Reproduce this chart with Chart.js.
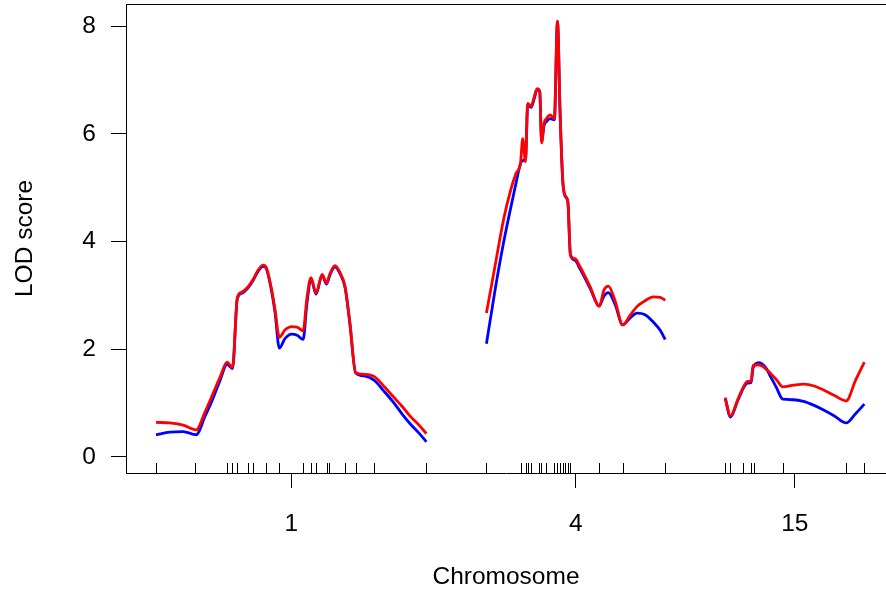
<!DOCTYPE html>
<html>
<head>
<meta charset="utf-8">
<script src="https://cdn.jsdelivr.net/npm/chart.js@4"></script>
<style>
html,body{margin:0;padding:0;background:#ffffff;overflow:hidden}
#c{display:block}
</style>
</head>
<body>
<canvas id="c" width="886" height="594"></canvas>
<script>
// ---- data ----
const chromosomes = ["1", "4", "15"];
const chromLengths = [112.7, 74.5, 58.0];   // cM
const chrGap = 25;                          // cM between chromosomes
const yTicks = [0, 2, 4, 6, 8];

// marker positions (cM within chromosome)
const markers1 = [0, 16.4, 29.6, 31.7, 33.9, 38.2, 40.5, 45.9, 51.4, 61.3, 64.5, 66.5, 71.1, 72.1, 78.6, 83.2, 90.9, 112.7];
const markers4 = [0, 14.2, 16.3, 17.3, 18.6, 21.7, 22.9, 25.0, 28.3, 29.5, 30.6, 31.7, 32.8, 33.9, 35.0, 47.0, 56.7, 74.5];
const markers15 = [0, 2.2, 7.6, 10.8, 11.9, 24.0, 50.4, 58.0];

// LOD curve positions (cM within chromosome)
const pos1 = [0, 5.8, 11.3, 16.7, 20.4, 23.8, 26.7, 29.6, 31.9, 33.9, 35.8, 38.2, 40.5, 42.6, 44.6, 45.8, 48.2, 49.6, 51.4, 53.8, 56.5, 58.8, 61.3, 62.9, 64.6, 66.7, 69.2, 71.1, 72.5, 74.6, 76.7, 78.8, 80.8, 83.2, 87.1, 91.0, 94.6, 98.8, 102.5, 105.8, 109.6, 112.7];
const red1 = [0.64, 0.63, 0.59, 0.50, 0.83, 1.18, 1.48, 1.76, 1.66, 2.96, 3.06, 3.15, 3.30, 3.47, 3.56, 3.53, 3.10, 2.73, 2.22, 2.36, 2.42, 2.41, 2.34, 2.95, 3.33, 3.04, 3.39, 3.23, 3.40, 3.55, 3.42, 3.16, 2.49, 1.56, 1.53, 1.49, 1.33, 1.12, 0.94, 0.76, 0.59, 0.43];
const blue1 = [0.41, 0.46, 0.47, 0.41, 0.75, 1.09, 1.42, 1.72, 1.64, 2.94, 3.04, 3.13, 3.28, 3.45, 3.54, 3.51, 3.07, 2.68, 2.02, 2.20, 2.28, 2.26, 2.18, 2.85, 3.31, 3.02, 3.37, 3.21, 3.38, 3.53, 3.40, 3.14, 2.47, 1.56, 1.50, 1.42, 1.24, 1.02, 0.80, 0.62, 0.44, 0.28];

const pos4 = [0, 3.6, 7.1, 9.9, 12.4, 14.2, 15.1, 16.3, 17.2, 18.6, 19.9, 21.1, 22.2, 23.0, 24.0, 25.3, 26.5, 28.3, 29.6, 30.7, 31.8, 32.8, 33.9, 35.0, 36.9, 39.0, 43.2, 47.0, 49.0, 50.8, 53.6, 56.8, 59.9, 62.7, 66.1, 69.6, 72.4, 74.5];
const red4 = [2.67, 3.55, 4.40, 4.92, 5.27, 5.45, 5.91, 5.48, 6.56, 6.51, 6.68, 6.84, 6.80, 5.83, 6.19, 6.30, 6.35, 6.28, 8.09, 6.38, 5.14, 4.85, 4.75, 3.75, 3.68, 3.53, 3.16, 2.80, 3.10, 3.17, 2.90, 2.45, 2.63, 2.79, 2.90, 2.97, 2.96, 2.91];
const blue4 = [2.10, 3.10, 3.97, 4.58, 5.10, 5.45, 5.50, 5.55, 6.56, 6.49, 6.65, 6.82, 6.78, 5.85, 6.15, 6.24, 6.28, 6.26, 8.08, 6.36, 5.12, 4.84, 4.74, 3.75, 3.65, 3.49, 3.13, 2.80, 2.99, 3.05, 2.83, 2.45, 2.58, 2.67, 2.64, 2.50, 2.35, 2.18];

const pos15 = [0, 2.2, 5.1, 7.6, 9.3, 10.8, 11.6, 13.9, 16.8, 18.9, 21.4, 24.0, 28.5, 32.6, 36.8, 41.0, 45.5, 50.4, 54.3, 58.0];
const red15 = [1.10, 0.76, 1.05, 1.30, 1.40, 1.40, 1.70, 1.71, 1.64, 1.55, 1.43, 1.30, 1.33, 1.35, 1.32, 1.24, 1.14, 1.04, 1.42, 1.76];
const blue15 = [1.08, 0.74, 1.03, 1.28, 1.37, 1.38, 1.65, 1.75, 1.66, 1.49, 1.28, 1.07, 1.06, 1.03, 0.96, 0.87, 0.76, 0.63, 0.80, 0.98];

// ---- build ----
const offsets = [];
let acc = 0;
chromLengths.forEach(L => { offsets.push(acc); acc += L + chrGap; });
const mids = chromLengths.map((L, i) => offsets[i] + L / 2);
const xMin = -chrGap / 2;
const xViewMax = 304.2;

const posAll = [pos1, pos4, pos15];
const markersAll = [markers1, markers4, markers15];

function buildSeries(lods) {
  const out = [];
  posAll.forEach((p, i) => {
    if (i > 0) out.push({ x: offsets[i] - chrGap / 2, y: null });
    p.forEach((v, j) => out.push({ x: offsets[i] + v, y: lods[i][j] }));
  });
  return out;
}

const FONT = { family: "'Liberation Sans', Arial, Helvetica, sans-serif", size: 24.5 };

const framePlugin = {
  id: 'frameRug',
  afterDraw(chart) {
    const { ctx, chartArea: a, scales: { x } } = chart;
    ctx.save();
    ctx.strokeStyle = '#000';
    ctx.lineWidth = 1;
    ctx.beginPath();
    ctx.moveTo(a.left, a.top + 0.5);
    ctx.lineTo(a.right, a.top + 0.5);
    markersAll.forEach((mk, i) => {
      mk.forEach(m => {
        const px = Math.round(x.getPixelForValue(offsets[i] + m)) + 0.5;
        ctx.moveTo(px, a.bottom);
        ctx.lineTo(px, a.bottom - 10);
      });
    });
    ctx.stroke();
    ctx.restore();
  }
};

new Chart(document.getElementById('c'), {
  type: 'line',
  data: {
    datasets: [
      { label: 'red', data: buildSeries([red1, red4, red15]), borderColor: '#ff0000', borderWidth: 2.8,
        pointRadius: 0, cubicInterpolationMode: 'monotone', spanGaps: false, fill: false },
      { label: 'blue', data: buildSeries([blue1, blue4, blue15]), borderColor: '#0000ff', borderWidth: 2.8,
        pointRadius: 0, cubicInterpolationMode: 'monotone', spanGaps: false, fill: false }
    ]
  },
  options: {
    responsive: false,
    animation: false,
    devicePixelRatio: 1,
    layout: { padding: { top: 4, right: 0, bottom: 0, left: 0 } },
    plugins: { legend: { display: false }, tooltip: { enabled: false } },
    scales: {
      x: {
        type: 'linear', min: xMin, max: xViewMax,
        afterFit(s) { s.height = 121; s.paddingLeft = 0; s.paddingRight = 0; },
        afterBuildTicks(s) { s.ticks = mids.map(v => ({ value: v })); },
        ticks: { autoSkip: false, maxRotation: 0, padding: 22, color: '#000', font: FONT,
          callback: (v, i) => chromosomes[i] },
        grid: { drawOnChartArea: false, drawTicks: true, tickLength: 15, color: '#000', lineWidth: 1 },
        border: { display: true, color: '#000', width: 1 },
        title: { display: true, text: 'Chromosome', color: '#000', font: FONT, padding: { top: 0, bottom: 2 } }
      },
      y: {
        type: 'linear', min: -0.30, max: 8.41,
        afterFit(s) { s.width = 126; s.paddingTop = 0; s.paddingBottom = 0; },
        afterBuildTicks(s) { s.ticks = yTicks.map(v => ({ value: v })); },
        ticks: { padding: 15, color: '#000', font: FONT, callback: v => String(v) },
        grid: { drawOnChartArea: false, drawTicks: true, tickLength: 15, color: '#000', lineWidth: 1 },
        border: { display: true, color: '#000', width: 1 },
        title: { display: true, text: 'LOD score', color: '#000', font: FONT, padding: { top: 11, bottom: 0 } }
      }
    }
  },
  plugins: [framePlugin]
});
</script>
</body>
</html>
